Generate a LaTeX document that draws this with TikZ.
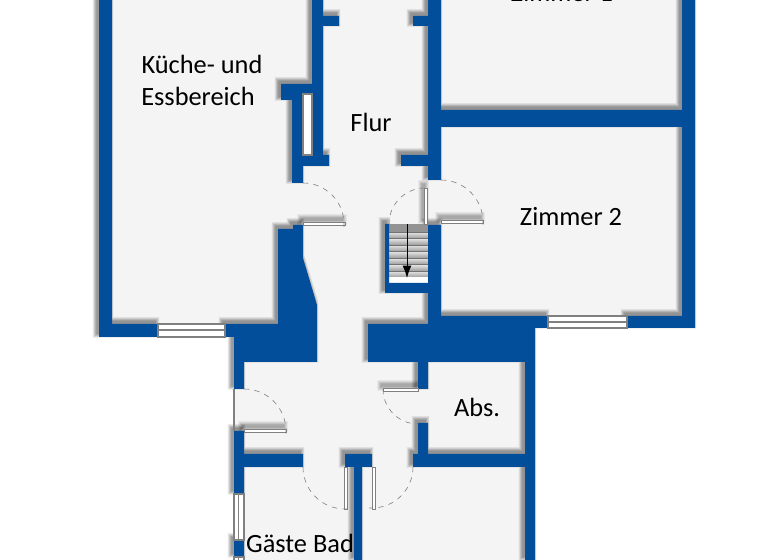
\documentclass[tikz,border=0pt]{standalone}
\usepackage{fontspec}
\setmainfont{Carlito}
\usepackage{tikz}
\usetikzlibrary{arrows.meta}
\definecolor{wallblue}{HTML}{034E9B}
\definecolor{floorgrey}{HTML}{F4F4F4}
\tikzset{room/.style={font=\fontsize{15}{17}\selectfont, inner sep=0pt, text=black},
         leaf/.style={draw=gray, fill=white, line width=0.4pt},
         swing/.style={draw=gray, dashed, line width=0.35pt},
         pane/.style={draw=gray, fill=white, line width=0.6pt}}
% all walls, in pixels of the plan
\newcommand{\wallpath}{
    (99,0) rectangle (112,337) (99,324) rectangle (158,337)
    (225,324) rectangle (278,337) (234,324) rectangle (244,389)
    (278,229) rectangle (303,362) (234,337) rectangle (317,362)
    (293,225) rectangle (303,229)
    (303,258) -- (303,362) -- (317,362) -- (317,305) -- cycle
    (312,0) rectangle (323,166) (323,16) rectangle (339,26)
    (281,84) rectangle (312,100) (292,84) rectangle (303,183)
    (303,155) rectangle (329,166)
    (428,0) rectangle (441,180) (413,16) rectangle (428,26)
    (441,110) rectangle (695,127) (401,155) rectangle (428,166)
    (682,0) rectangle (695,328) (627,316) rectangle (695,328)
    (428,225) rectangle (441,324) (441,316) rectangle (548,328)
    (368,324) rectangle (535,362) (525,316) rectangle (535,560)
    (418,362) rectangle (428,389) (418,423) rectangle (428,454)
    (413,454) rectangle (535,467)
    (385,224) rectangle (389,293) (385,283) rectangle (428,293)
    (234,431) rectangle (244,494) (234,540) rectangle (244,557)
    (244,454) rectangle (303,467)
    (345,454) rectangle (372,467) (354,467) rectangle (362,560)
}
\newcommand{\leafpath}{
    (303,222) rectangle (345,225) (441,220) rectangle (483,223)
    (244,429) rectangle (286,432) (383,388) rectangle (418,391)
    (424,188) rectangle (427,224)
}
\begin{document}
\begin{tikzpicture}[x=0.02cm,y=-0.02cm]
    \useasboundingbox (0,0) rectangle (768,560);
    \clip (0,0) rectangle (768,560);
    \fill[white] (0,0) rectangle (768,560);

    % Floor
    \fill[floorgrey] (99,0) -- (695,0) -- (695,328) -- (535,328) -- (535,560)
        -- (234,560) -- (234,337) -- (99,337) -- cycle;

    % Soft shadow of the walls
    \foreach \w in {0.1,0.7,1.3,1.9,2.5,3.1,3.7,4.3} {
        \begin{scope}[transparency group, opacity=0.06, shift={(-2.5,-3)}]
            \fill[black] \wallpath;
            \draw[black, line width=\w pt] \wallpath;
        \end{scope}
        \begin{scope}[transparency group, opacity=0.045, shift={(-2,-4)}]
            \fill[black] \leafpath;
            \draw[black, line width=\w pt] \leafpath;
        \end{scope}
    }

    % Stairs
    \fill[gray!85] (389,224) rectangle (428,232);
    \foreach \i in {1,...,7} {
        \shade[top color=gray!20, bottom color=gray!80] (389,225.6+6.5*\i) rectangle (428,232.1+6.5*\i);
        \draw[gray!90!black, line width=0.3pt] (389,225.6+6.5*\i) -- (428,225.6+6.5*\i);
    }
    \fill[white] (389,277) rectangle (428,283);

    % Walls
    \fill[wallblue] \wallpath;

    % Windows
    \draw[pane] (158,324) rectangle (225,337);
    \draw[gray, line width=0.6pt] (158,330) -- (225,330);
    \draw[pane] (548,316) rectangle (627,328);
    \draw[gray, line width=0.6pt] (548,322) -- (627,322);
    \draw[pane] (234,494) rectangle (244,540);
    \draw[gray, line width=0.6pt] (238.5,494) -- (238.5,540);
    \draw[pane] (234,557) rectangle (244,562);
    \draw[gray, line width=0.6pt] (238.5,557) -- (238.5,562);
    \draw[pane] (303,94) rectangle (312,155);
    \draw[gray, line width=0.6pt] (234,389) -- (234,431);

    % Door leaves and swings
    \draw[leaf] \leafpath;
    \draw[leaf] (344,467) rectangle (347,509);
    \draw[leaf] (372,467) rectangle (375,509);
    \draw[swing] (303,183) arc[start angle=90, end angle=0, radius=0.82cm] -- ++(0,3);
    \draw[swing] (441,180) arc[start angle=90, end angle=0, radius=0.84cm] -- ++(0,3);
    \draw[swing] (425,188) arc[start angle=90, end angle=180, radius=0.72cm];
    \draw[swing] (244,389) arc[start angle=90, end angle=0, radius=0.84cm] -- ++(0,3);
    \draw[swing] (383,389) arc[start angle=180, end angle=270, radius=0.70cm];
    \draw[swing] (303,467) arc[start angle=180, end angle=270, radius=0.84cm] -- ++(3,0);
    \draw[swing] (413,467) arc[start angle=0, end angle=-90, radius=0.82cm] -- ++(-3,0);

    % Stair arrow
    \coordinate (stairtop) at (407,224);
    \coordinate (stairend) at (407,278);
    \draw[-{Latex[length=7pt,width=5pt]}, line width=0.5pt] (stairtop) -- (stairend);

    % Labels
    \node[room, anchor=base] (zimmereins) at (562,2) {Zimmer 1};
    \node[room, anchor=base] (kueche) at (202,74) {Küche- und};
    \node[room, anchor=base] (essbereich) at (198,106) {Essbereich};
    \node[room, anchor=base] (flur) at (371,132) {Flur};
    \node[room, anchor=base] (zimmerzwei) at (571,226) {Zimmer 2};
    \node[room, anchor=base] (abs) at (477,417) {Abs.};
    \node[room, anchor=base] (gaestebad) at (300,553) {Gäste Bad};
\end{tikzpicture}
\end{document}
